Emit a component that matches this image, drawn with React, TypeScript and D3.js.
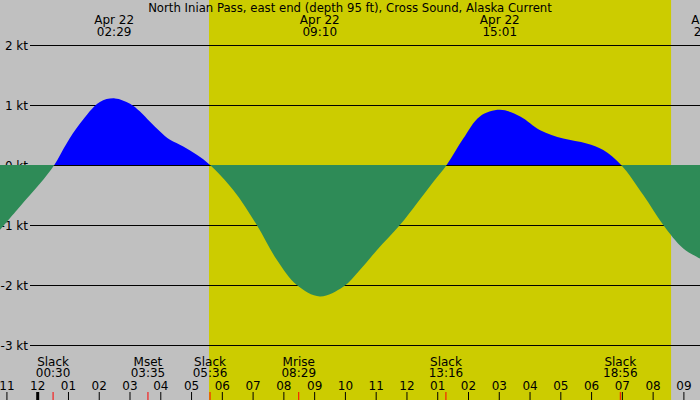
import { useEffect, useRef } from "react";
import * as d3 from "d3";

// current speed (hours from midnight Apr 22, knots)
const hours = [
  -1.225, -0.575, 0.075, 0.54, 0.94, 1.375, 2.02, 2.51, 3.0, 3.325, 3.65, 3.975, 4.3, 4.73, 5.17, 5.6,
  6.36, 7.12, 7.77, 8.42, 9.17, 9.93, 10.47, 11.02, 11.77, 12.32, 12.86, 13.29,
  13.83, 14.37, 15.02, 15.68, 16.33, 17.08, 17.84, 18.38, 18.96,
  19.68, 20.33, 20.98, 21.6,
];
const speeds = [
  -1.08, -0.69, -0.31, 0, 0.36, 0.69, 1.05, 1.11, 1.02, 0.89, 0.72, 0.56, 0.42, 0.31, 0.17, 0,
  -0.42, -1.0, -1.58, -2.0, -2.19, -2.03, -1.75, -1.42, -1.0, -0.64, -0.28, 0,
  0.44, 0.81, 0.92, 0.81, 0.58, 0.44, 0.36, 0.25, 0,
  -0.5, -1.0, -1.39, -1.58,
];

const yTicks = [2, 1, 0, -1, -2, -3];
const hourTicks = d3.range(-1, 22);

const peakTimes = ["02:29", "09:10", "15:01", "21:53"];
const eventLabels = ["Slack", "Mset", "Slack", "Mrise", "Slack", "Slack"];
const eventTimes = ["00:30", "03:35", "05:36", "08:29", "13:16", "18:56"];
const sunrise = "05:34";
const sunset = "20:35";

const title = "North Inian Pass, east end (depth 95 ft), Cross Sound, Alaska Current";

const W = 700;
const H = 400;
const FONT = "DejaVu Sans";

const toHours = (t: string) => {
  const [h, m] = t.split(":").map(Number);
  return h + m / 60;
};

const hourLabel = (h: number) => {
  const v = ((h % 12) + 12) % 12 || 12;
  return String(v).padStart(2, "0");
};

export default function App() {
  const ref = useRef<SVGSVGElement | null>(null);

  useEffect(() => {
    const svg = d3.select(ref.current);
    svg.selectAll("*").remove();

    const x = d3.scaleLinear().domain([0, 21]).range([37.7, 683.9]);
    const y = d3.scaleLinear().domain([0, 2]).range([165, 45]);

    // background: night grey, daylight yellow
    svg.append("rect").attr("width", W).attr("height", H).attr("fill", "#c0c0c0");
    svg
      .append("rect")
      .attr("x", x(toHours(sunrise)))
      .attr("width", x(toHours(sunset)) - x(toHours(sunrise)))
      .attr("height", H)
      .attr("fill", "#cccc00");

    // grid lines
    svg
      .append("g")
      .selectAll("line")
      .data(yTicks)
      .enter()
      .append("line")
      .attr("x1", 30)
      .attr("x2", W)
      .attr("y1", (d) => y(d) + 0.5)
      .attr("y2", (d) => y(d) + 0.5)
      .attr("stroke", "#000")
      .attr("stroke-width", 1);

    svg
      .append("g")
      .attr("font-family", FONT)
      .attr("font-size", 12)
      .attr("text-anchor", "end")
      .selectAll("text")
      .data(yTicks)
      .enter()
      .append("text")
      .attr("x", 28)
      .attr("y", (d) => y(d) + 4.5)
      .text((d) => `${d} kt`);

    // flood / ebb areas
    const pts = hours.map((h, i) => [h, speeds[i]] as [number, number]);
    const area = d3
      .area<[number, number]>()
      .x((d) => x(d[0]))
      .y0(y(0))
      .y1((d) => y(d[1]))
      .curve(d3.curveCatmullRom.alpha(0.5));

    const defs = svg.append("defs");
    defs
      .append("clipPath")
      .attr("id", "pos")
      .append("rect")
      .attr("width", W)
      .attr("height", y(0));
    defs
      .append("clipPath")
      .attr("id", "neg")
      .append("rect")
      .attr("y", y(0))
      .attr("width", W)
      .attr("height", H - y(0));

    svg
      .append("path")
      .datum(pts)
      .attr("d", area)
      .attr("fill", "#0000ff")
      .attr("clip-path", "url(#pos)");
    svg
      .append("path")
      .datum(pts)
      .attr("d", area)
      .attr("fill", "#2e8b57")
      .attr("clip-path", "url(#neg)");

    // title
    svg
      .append("text")
      .attr("x", W / 2)
      .attr("y", 12)
      .attr("text-anchor", "middle")
      .attr("font-family", FONT)
      .attr("font-size", 11.7)
      .text(title);

    // max current labels
    const peaks = svg
      .append("g")
      .attr("font-family", FONT)
      .attr("font-size", 12)
      .attr("text-anchor", "middle")
      .selectAll("g")
      .data(peakTimes)
      .enter()
      .append("g")
      .attr("transform", (d) => `translate(${x(toHours(d))},0)`);
    peaks.append("text").attr("y", 24).text("Apr 22");
    peaks.append("text").attr("y", 36).text((d) => d);

    // events (slack, moon)
    const events = svg
      .append("g")
      .attr("font-family", FONT)
      .attr("font-size", 12)
      .attr("text-anchor", "middle")
      .selectAll("g")
      .data(eventTimes)
      .enter()
      .append("g")
      .attr("transform", (d) => `translate(${x(toHours(d))},0)`);
    events.append("text").attr("y", 366).text((_d, i) => eventLabels[i]);
    events.append("text").attr("y", 377).text((d) => d);

    // hour ticks
    const ticks = svg
      .append("g")
      .attr("font-family", FONT)
      .attr("font-size", 12)
      .attr("text-anchor", "middle")
      .selectAll("g")
      .data(hourTicks)
      .enter()
      .append("g")
      .attr("transform", (d) => `translate(${x(d)},0)`);
    ticks.append("text").attr("y", 390).text((d) => hourLabel(d));
    ticks
      .append("line")
      .attr("y1", 392)
      .attr("y2", H)
      .attr("stroke", "#000")
      .attr("stroke-width", (d) => (d === 0 ? 3 : 1));

    svg
      .append("g")
      .selectAll("line")
      .data(eventTimes)
      .enter()
      .append("line")
      .attr("x1", (d) => x(toHours(d)))
      .attr("x2", (d) => x(toHours(d)))
      .attr("y1", 392)
      .attr("y2", H)
      .attr("stroke", "#ff0000")
      .attr("stroke-width", 1);
  }, []);

  return (
    <svg
      ref={ref}
      width={W}
      height={H}
      style={{ position: "absolute", left: 0, top: 0, display: "block" }}
    />
  );
}
